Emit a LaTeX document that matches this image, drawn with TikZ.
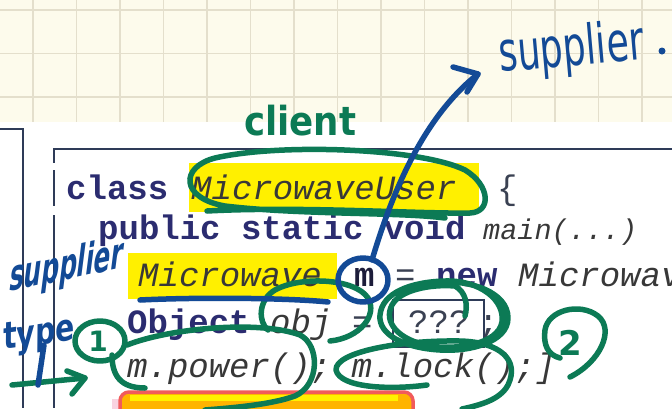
\documentclass[tikz,border=0pt]{standalone}
\usepackage{fontspec}
\setmonofont{Liberation Mono}
\newfontfamily\handclient{DejaVu Sans}[FakeStretch=0.89]
\newfontfamily\handtop{DejaVu Sans}[FakeStretch=0.66]
\newfontfamily\handleft{DejaVu Sans}[FakeStretch=0.6, FakeSlant=0.35]
\newfontfamily\handtype{DejaVu Sans}[FakeStretch=0.77, FakeSlant=0.15]
\newfontfamily\handnum{DejaVu Sans}
\definecolor{cream}{HTML}{FDFBEC}
\definecolor{gridc}{HTML}{E4DFCC}
\definecolor{frame}{HTML}{2E3B58}
\definecolor{kwnavy}{HTML}{2B2C70}
\definecolor{itgray}{HTML}{383838}
\definecolor{plaingray}{HTML}{3A4152}
\definecolor{mblack}{HTML}{1C1C3A}
\definecolor{hlyellow}{HTML}{FFF000}
\definecolor{pgreen}{HTML}{0C7A55}
\definecolor{pblue}{HTML}{134A96}
\definecolor{boxred}{HTML}{F15B5B}
\definecolor{boxorange}{HTML}{FFB400}
\definecolor{boxpink}{HTML}{F9D3E0}
\begin{document}
\begin{tikzpicture}[x=1pt,y=-1pt,
  kw/.style={font=\fontsize{34}{40}\selectfont\ttfamily\bfseries, text=kwnavy, inner sep=0pt, anchor=base west},
  itx/.style={font=\fontsize{34}{40}\selectfont\ttfamily\itshape, text=itgray, inner sep=0pt, anchor=base west},
  plaintxt/.style={font=\fontsize{34}{40}\selectfont\ttfamily, text=plaingray, inner sep=0pt, anchor=base west},
  hlbox/.style={fill=hlyellow},
  frameline/.style={draw=frame, line width=1.6pt},
  penline/.style={line width=5.5pt, line cap=round, line join=round},
  pg/.style={penline, draw=pgreen},
  pb/.style={penline, draw=pblue},
  handg/.style={text=pgreen, inner sep=0pt, anchor=base west},
  handb/.style={text=pblue, inner sep=0pt, anchor=base west}
]
\useasboundingbox (0,0) rectangle (672,408);
\clip (0,0) rectangle (672,408);
% backgrounds
\fill[white] (0,0) rectangle (672,408);
\fill[cream] (0,0) rectangle (672,122);
\foreach \gy in {10,53.5,97} \draw[gridc, line width=1.3pt] (0,\gy) -- (672,\gy);
\foreach \k in {0,...,14} \draw[gridc, line width=1.3pt] ({33+43.5*\k},0) -- ({33+43.5*\k},122);
% slide frames
\draw[frameline] (0,129) -- (23,129) -- (23,408);
\draw[frameline] (672,149) -- (54,149) -- (54,163);
\draw[frameline] (54,170) -- (54,206);
\draw[frameline] (54,215) -- (54,408);
% highlights
\fill[hlbox] (189,163) rectangle (479,212);
\fill[hlbox] (128,253) rectangle (337,299);
% bottom highlighted line
\fill[boxpink] (112,399) rectangle (415,420);
\draw[draw=boxred, line width=3.5pt, rounded corners=9pt, fill=boxorange] (120,392) rectangle (413,430);
\fill[hlyellow] (130,395) rectangle (398,401);
% code text
\node[kw] (class) at (66,199) {class};
\node[itx] (mwu) at (191,199) {MicrowaveUser};
\node[plaintxt] (brace) at (497,199) {\{};
\node[kw] (psv) at (98,239) {public static void};
\node[itx, font=\fontsize{28.5}{34}\selectfont\ttfamily\itshape] (mainm) at (483,239) {main(...)};
\node[itx] (mw) at (138,286) {Microwave};
\node[kw, text=mblack] (mvar) at (354,286) {m};
\node[plaintxt] (eqa) at (395,286) {=};
\node[kw] (newk) at (436,286) {new};
\node[itx] (mwb) at (518,286) {Microwave};
\node[kw] (objt) at (127,333) {Object};
\node[itx] (objv) at (270,333) {obj};
\node[plaintxt] (eqb) at (352,333) {=};
\node[draw=frame, line width=1.5pt, inner sep=0pt, minimum width=91pt, minimum height=47pt] (qbox) at (438.5,323.5) {};
\node[plaintxt] (qq) at (408,333) {???};
\node[plaintxt] (semi) at (478,333) {;};
\node[itx] (calls) at (127,377) {m.power(); m.lock();]};
% green annotations
\node[handg, font=\handclient\bfseries\fontsize{40}{44}\selectfont] (client) at (244,135) {client};
\draw[pg] (207,211) .. controls (300,206) and (420,214) .. (470,213) .. controls (492,212) and (490,185) .. (465,170) .. controls (420,148) and (280,143) .. (215,158) .. controls (180,167) and (180,198) .. (225,206) .. controls (300,215) and (400,212) .. (445,218);
\draw[pg] (330,341) .. controls (360,338) and (378,315) .. (368,298) .. controls (355,278) and (300,276) .. (275,290) .. controls (258,300) and (258,322) .. (268,330);
\draw[pg] (440,282) .. controls (470,280) and (508,292) .. (508,318) .. controls (508,342) and (470,352) .. (440,350) .. controls (405,348) and (378,335) .. (380,315) .. controls (382,293) and (410,282) .. (445,281) .. controls (480,280) and (505,300) .. (502,322) .. controls (498,345) and (455,350) .. (430,346) .. controls (398,340) and (383,322) .. (392,305) .. controls (400,290) and (430,284) .. (455,286) .. controls (466,292) and (468,305) .. (465,316);
\node[handg, font=\handnum\bfseries\fontsize{28}{32}\selectfont, anchor=center] (one) at (98,341) {1};
\draw[pg] (100,341) ellipse [x radius=25, y radius=20];
\draw[pg] (127,345) .. controls (170,328) and (260,320) .. (300,335) .. controls (320,345) and (320,385) .. (295,396) .. controls (270,405) and (230,408) .. (205,410);
\draw[pg] (112,355) .. controls (112,375) and (120,388) .. (145,388);
\draw[pg] (427,385) .. controls (390,390) and (340,388) .. (336,370) .. controls (335,352) and (400,340) .. (460,341) .. controls (500,342) and (520,360) .. (508,385) .. controls (500,400) and (480,405) .. (462,409);
\node[handg, font=\handnum\bfseries\fontsize{34}{38}\selectfont, anchor=center] (two) at (570,343) {2};
\draw[pg] (570,377) .. controls (600,362) and (615,330) .. (598,316) .. controls (580,302) and (548,310) .. (545,330) .. controls (543,345) and (548,355) .. (560,358);
\coordinate (arrS) at (12,385);
\coordinate (arrE) at (85,378);
\draw[pg] (arrS) -- (arrE);
\draw[pg] (67,371) -- (arrE) -- (72,394);
% blue annotations
\draw[pb] (363,280) ellipse [x radius=25, y radius=22];
\draw[pb] (140,300) .. controls (200,297) and (290,298) .. (328,302);
\coordinate (tipB) at (478,74);
\draw[pb] (372,260) .. controls (390,200) and (420,120) .. (tipB);
\draw[pb] (453,67) -- (tipB) -- (467,92);
\node[handb, font=\handtop\fontsize{55}{60}\selectfont, rotate=5] (suptop) at (500,72) {supplier};
\fill[pblue] (662,51) circle (3.5pt);
\node[handb, font=\handleft\bfseries\fontsize{42}{46}\selectfont, rotate=12] (supleft) at (8,292) {supplier};
\node[handb, font=\handtype\bfseries\fontsize{37}{40}\selectfont, rotate=8] (typel) at (3,350) {type};
\draw[pb] (44,345) -- (38,385);
\end{tikzpicture}
\end{document}
